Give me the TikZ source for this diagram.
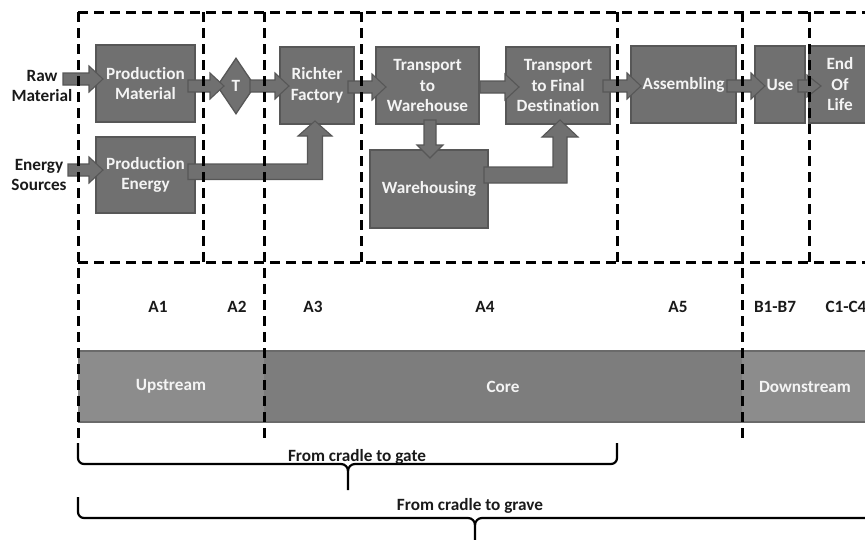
\documentclass[tikz,border=0pt]{standalone}
\usepackage{fontspec}
\setmainfont{Carlito}[Ligatures={NoCommon}]
\usetikzlibrary{shapes.geometric,calc}
\definecolor{boxfill}{HTML}{707070}
\definecolor{boxline}{HTML}{575757}
\definecolor{bandlight}{HTML}{8C8C8C}
\definecolor{banddark}{HTML}{7D7D7D}
\definecolor{bandline}{HTML}{6A6A6A}
\definecolor{txtw}{HTML}{F4F4F4}
\definecolor{txtb}{HTML}{1A1A1A}
\newcommand\harr[3][13]{%
  \path[blk] let \p1=(#2), \p2=(#3) in
    (\x1,\y1+6pt) -- (\x2-14pt,\y1+6pt) -- (\x2-14pt,\y1+#1pt) -- (\x2,\y1)
    -- (\x2-14pt,\y1-#1pt) -- (\x2-14pt,\y1-6pt) -- (\x1,\y1-6pt) -- cycle;}
\newcommand\varr[2]{%
  \path[blk] let \p1=(#1), \p2=(#2) in
    (\x1-6pt,\y1) -- (\x1-6pt,\y2+13pt) -- (\x1-13pt,\y2+13pt) -- (\x1,\y2)
    -- (\x1+13pt,\y2+13pt) -- (\x1+6pt,\y2+13pt) -- (\x1+6pt,\y1) -- cycle;}
\begin{document}
\begin{tikzpicture}[x=1pt,y=-1pt,
  every node/.style={font=\fontsize{17.2}{20.5}\selectfont\bfseries},
  box/.style={draw=boxline, fill=boxfill, line width=1.3pt, text=txtw, align=center, inner sep=1pt},
  lbl/.style={text=txtb, align=center, inner sep=0pt},
  band/.style={fill=#1, draw=none, text=txtw, inner sep=0pt, minimum height=71pt},
  blk/.style={fill=boxfill, draw=boxline, line width=1.1pt, line join=miter},
  sep/.style={line width=3pt, dash pattern=on 10pt off 6pt},
  brc/.style={line width=2.2pt, black}]
\useasboundingbox (0,0) rectangle (865,539);

% band
\node[band=bandlight, minimum width=186pt] (up) at (171,386.5) {Upstream};
\node[band=banddark, minimum width=478pt] (core) at (503,386.5) {Core};
\node[band=bandlight, minimum width=126pt] (down) at (805,386.5) {Downstream};
\draw[bandline, line width=1.5pt] (up.north west) -- (down.north east);
\draw[bandline, line width=1.5pt] (up.south west) -- (down.south east);

% boxes
\node[box, minimum width=99pt, minimum height=77pt] (pm) at (145.5,83.5) {Production\\Material};
\node[box, minimum width=99pt, minimum height=76pt] (pe) at (145.5,175) {Production\\Energy};
\node[box, shape=diamond, minimum width=38pt, minimum height=56pt, inner sep=0pt] (t) at (236,86) {T};
\node[box, minimum width=74pt, minimum height=77pt] (rf) at (317,85.5) {Richter\\Factory};
\node[box, minimum width=103pt, minimum height=77pt] (tw) at (427.5,85.5) {Transport\\to\\Warehouse};
\node[box, minimum width=104pt, minimum height=77pt] (tf) at (558,85.5) {Transport\\to Final\\Destination};
\node[box, minimum width=118pt, minimum height=78pt] (wh) at (429,189) {Warehousing};
\node[box, minimum width=105pt, minimum height=77pt] (as) at (683.5,84.5) {Assembling};
\node[box, minimum width=50pt, minimum height=77pt] (use) at (780,84.5) {Use};
\node[box, minimum width=62pt, minimum height=77pt] (eol) at (840,84.5) {End\\Of\\Life};

% outer labels
\node[lbl] (raw) at (42,86) {Raw\\Material};
\node[lbl] (en) at (39,175) {Energy\\Sources};

% arrow endpoints
\coordinate (rawS) at (63,79);   \coordinate (rawT) at (103,79);
\coordinate (enS) at (68,170);   \coordinate (enT) at (103,170);
\coordinate (pmS) at (188,86);   \coordinate (tT) at (224,86);
\coordinate (tS) at (250,86);    \coordinate (rfT) at (289,86);
\coordinate (rfS) at (348,87);   \coordinate (twT) at (386,87);
\coordinate (twS) at (480,87);   \coordinate (tfT) at (519,87);
\coordinate (tfS) at (603,86);   \coordinate (asT) at (641,86);
\coordinate (asS) at (727,86);   \coordinate (useT) at (765,86);
\coordinate (useS) at (798,86);  \coordinate (eolT) at (821,86);
\coordinate (twD) at (430,120);  \coordinate (whT) at (430,158);

\harr{rawS}{rawT}
\harr{enS}{enT}
\harr{pmS}{tT}
\harr{tS}{rfT}
\harr{rfS}{twT}
\harr{twS}{tfT}
\harr{tfS}{asT}
\harr{asS}{useT}
\harr[11]{useS}{eolT}
\varr{twD}{whT}
% bent arrows
\path[blk] (188,164) -- (307.5,164) -- (307.5,136) -- (298,136) -- (315,121)
  -- (332,136) -- (322.5,136) -- (322.5,179.5) -- (188,179.5) -- cycle;
\path[blk] (484,167) -- (553,167) -- (553,137) -- (542,137) -- (560,120)
  -- (578,137) -- (567,137) -- (567,183) -- (484,183) -- cycle;

% phase labels
\node[lbl] (a1) at (158,307) {A1};
\node[lbl] (a2) at (237,307) {A2};
\node[lbl] (a3) at (313,307) {A3};
\node[lbl] (a4) at (485,307) {A4};
\node[lbl] (a5) at (678,307) {A5};
\node[lbl] (b) at (775,307) {B1-B7};
\node[lbl] (c) at (846,307) {C1-C4};

% dashed frames
\draw[sep] (78,12) -- (868,12);
\draw[sep] (78,262) -- (868,262);
\draw[sep] (78,12) -- (78,441);
\draw[sep] (203,12) -- (203,262);
\draw[sep] (264,12) -- (264,443);
\draw[sep] (361,12) -- (361,262);
\draw[sep] (617,12) -- (617,262);
\draw[sep] (742,12) -- (742,443);
\draw[sep] (809,12) -- (809,262);

% braces
\draw[brc] (78,443) -- (78,458) to[out=-90,in=180] (84,464) -- (341,464)
  to[out=0,in=90] (348,471) -- (348,490);
\draw[brc] (348,471) to[out=90,in=180] (355,464) -- (611,464)
  to[out=0,in=-90] (617,458) -- (617,443);
\node[lbl] (g1) at (357,457) {From cradle to gate};
\draw[brc] (78,497) -- (78,512) to[out=-90,in=180] (84,518) -- (468,518)
  to[out=0,in=90] (475,525) -- (475,542);
\draw[brc] (475,525) to[out=90,in=180] (482,518) -- (868,518);
\node[lbl] (g2) at (470,506) {From cradle to grave};
\end{tikzpicture}
\end{document}
